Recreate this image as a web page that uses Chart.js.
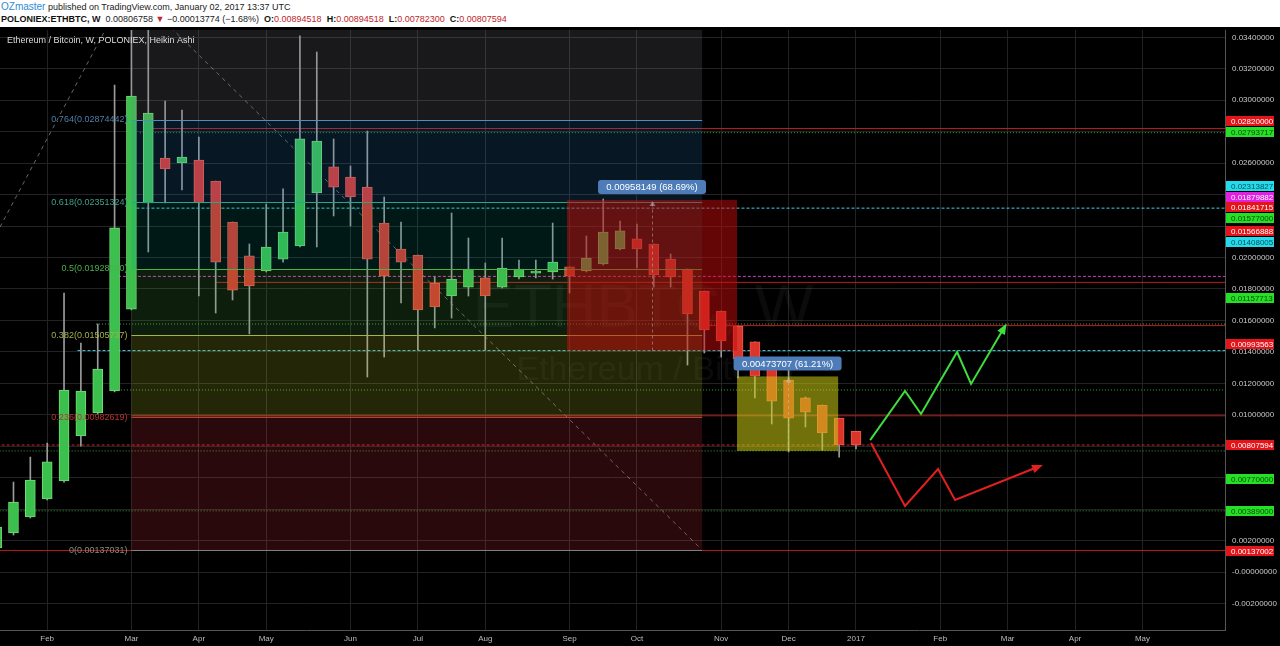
<!DOCTYPE html>
<html lang="en">
<head>
<meta charset="UTF-8" />
<title>Ethereum / Bitcoin, W, POLONIEX, Heikin Ashi</title>
<style>
  body { margin: 0; background: #fff; width: 1280px; height: 646px; overflow: hidden; font-family: "Liberation Sans", Arial, sans-serif; }
  #head { height: 27px; box-sizing: border-box; padding: 1px 0 0 1px; font-size: 9px; line-height: 12px; color: #222; white-space: nowrap; }
  #head .user { color: #2e8bd6; font-size: 10px; }
  #head .red { color: #c0252b; }
  #head b { color: #111; }
  #wrap { width: 1280px; height: 619px; background: #000; }
  canvas { display: block; }
</style>
</head>
<body>
<div id="head">
  <div><span class="user">OZmaster</span> published on TradingView.com, January 02, 2017 13:37 UTC</div>
  <div><b>POLONIEX:ETHBTC, W</b>&nbsp; 0.00806758 <span class="red">▼</span> −0.00013774 (−1.68%) &nbsp;<b>O:</b><span class="red">0.00894518</span> &nbsp;<b>H:</b><span class="red">0.00894518</span> &nbsp;<b>L:</b><span class="red">0.00782300</span> &nbsp;<b>C:</b><span class="red">0.00807594</span></div>
</div>
<div id="wrap"><canvas id="c" width="1280" height="619"></canvas></div>

<script src="https://cdn.jsdelivr.net/npm/chart.js"></script>
<script>
// weekly Heikin Ashi candles, week index 0 = 18 Jan 2016
const weeks = [-1,0,1,2,3,4,5,6,7,8,9,10,11,12,13,14,15,16,17,18,19,20,21,22,23,24,25,26,27,28,29,30,31,32,33,34,35,36,37,38,39,40,41,42,43,44,45,46,47,48,49,50];
const opens  = [0.00153,0.00248,0.00350,0.00464,0.00579,0.00865,0.01011,0.01151,0.01672,0.02347,0.02633,0.02601,0.02620,0.02486,0.02226,0.02010,0.01914,0.01990,0.02073,0.02410,0.02576,0.02512,0.02448,0.02219,0.02054,0.02016,0.01838,0.01755,0.01812,0.01870,0.01812,0.01876,0.01901,0.01908,0.01940,0.01914,0.01959,0.02054,0.02118,0.02086,0.01990,0.01927,0.01787,0.01660,0.01564,0.01463,0.01348,0.01221,0.01107,0.01062,0.00979,0.00894518];
const closes = [0.00286,0.00445,0.00585,0.00700,0.01157,0.01151,0.01291,0.02188,0.03027,0.02919,0.02563,0.02639,0.02347,0.01971,0.01793,0.01819,0.02067,0.02162,0.02754,0.02741,0.02448,0.02385,0.01990,0.01882,0.01971,0.01666,0.01685,0.01863,0.01927,0.01755,0.01933,0.01927,0.01914,0.01971,0.01882,0.01997,0.02162,0.02169,0.02054,0.01889,0.01876,0.01641,0.01539,0.01469,0.01355,0.01246,0.01087,0.00979,0.01017,0.00884,0.00808,0.00807594];
const highs  = [0.00331,0.00572,0.00731,0.00820,0.01774,0.01456,0.01577,0.03097,0.03479,0.03459,0.02995,0.02938,0.02766,0.02486,0.02226,0.02086,0.02340,0.02436,0.03409,0.03307,0.02754,0.02582,0.02804,0.02385,0.02226,0.02016,0.01876,0.02283,0.02124,0.01965,0.02124,0.01984,0.01984,0.02219,0.01940,0.02137,0.02372,0.02232,0.02213,0.02086,0.02022,0.01927,0.01787,0.01660,0.01564,0.01463,0.01348,0.01285,0.01113,0.01062,0.00979,0.00894518];
const lows   = [0.00127,0.00235,0.00343,0.00458,0.00572,0.00801,0.01005,0.01145,0.01666,0.02035,0.02347,0.02429,0.01755,0.01647,0.01730,0.01514,0.01908,0.01971,0.02067,0.02067,0.02264,0.02200,0.01240,0.01367,0.01711,0.01412,0.01552,0.01615,0.01755,0.01412,0.01806,0.01863,0.01870,0.01863,0.01774,0.01908,0.01952,0.02048,0.01933,0.01812,0.01812,0.01316,0.01393,0.01367,0.01234,0.01107,0.00941,0.00763,0.00922,0.00776,0.00731,0.00782300];

// month ticks (week index of the first bar of each month)
const monthWeeks  = [2,7,11,15,20,24,28,33,37,42,46,50,55,59,63,67];
const monthLabels = ['Feb','Mar','Apr','May','Jun','Jul','Aug','Sep','Oct','Nov','Dec','2017','Feb','Mar','Apr','May'];

// horizontal levels with their axis tags
const levelValues = [0.02820000,0.02793717,0.02313827,0.01879882,0.01841715,0.01577000,0.01566888,0.01408005,0.01157713,0.00993563,0.00807594,0.00770000,0.00389000,0.00137002];
const levelStarts = [8.1,7.5,7.3,5.9,12,4.9,41,3.8,6.2,7,-1,-1,-1,-1];
const levelKinds  = ['red','green','cyan','magenta','red','green','red','cyan','green','red','reddash','green','green','red'];
const tagAt       = [0.028680,0.027981,0.024515,0.023847,0.023180,0.022512,0.021685,0.020986,0.017424,0.014499,0.008076,0.005914,0.003879,0.001335];

// fibonacci retracement
const fibRatios = ['0','0.236','0.382','0.5','0.618','0.764','1'];
const fibValues = [0.00137031,0.00982619,0.01505737,0.01928530,0.02351324,0.02874442,0.03720030];
const fibFrom = 7, fibTo = 40.87;

// price range boxes
const boxFrom  = [32.85, 42.94];
const boxTo    = [42.94, 48.94];
const boxLow   = [0.01408005, 0.00770000];
const boxHigh  = [0.02366154, 0.01243707];
const boxText  = ['0.00958149 (68.69%)', '0.00473707 (61.21%)'];

// dashed trend lines
const trend1X = [-0.8, 5.73], trend1Y = [0.02194, 0.03504];
const trend2X = [9.0, 40.75], trend2Y = [0.03498, 0.00153];

// projected paths
const upX = [50.84,52.91,53.86,56.00,56.83,58.85];
const upY = [0.00839,0.01151,0.01005,0.01399,0.01196,0.01564];
const downX = [50.89,52.91,54.87,55.88,60.93];
const downY = [0.00820,0.00420,0.00655,0.00458,0.00674];

const kindColor = { red: 'rgba(225,30,30,0.85)', reddash: 'rgba(230,40,40,0.9)', green: 'rgba(70,210,70,0.8)', cyan: '#3fd2e4', magenta: '#d63ad6' };
const kindDash  = { red: [], reddash: [3, 2], green: [1, 2], cyan: [3, 2], magenta: [3, 2] };
const tagBg     = { red: '#e3141a', reddash: '#e3141a', green: '#25e025', cyan: '#22dcee', magenta: '#e022e0' };
const tagFg     = { red: '#fff', reddash: '#fff', green: '#0b4a0b', cyan: '#0b4b55', magenta: '#fff' };

const fibLine = ['#7d7f88','#c93434','#a8b14a','#4caf50','#2aa58a','#4f8fc0','#7d7f88'];
const fibFill = ['rgba(242,54,69,0.17)','rgba(180,190,40,0.2)','rgba(76,175,80,0.17)','rgba(0,150,136,0.17)','rgba(40,130,200,0.18)','rgba(125,127,136,0.2)'];
const fibText = ['#8a8a8a','#b83232','#a4b04a','#4caf50','#3fa08a','#4f7fa8','#8a8a8a'];
const boxFill = ['rgba(200,12,12,0.5)','rgba(205,205,20,0.55)'];

const up = weeks.map((w, i) => closes[i] >= opens[i]);

const levelSets = levelValues.map((v, i) => ({
  type: 'line',
  data: [{ x: levelStarts[i], y: v }, { x: 80, y: v }],
  borderColor: kindColor[levelKinds[i]],
  borderDash: kindDash[levelKinds[i]],
  borderWidth: 1,
  pointRadius: 0,
  order: 5
}));

const trendSets = [[trend1X, trend1Y], [trend2X, trend2Y]].map(([xs, ys]) => ({
  type: 'line',
  data: xs.map((x, i) => ({ x, y: ys[i] })),
  borderColor: 'rgba(170,170,170,0.6)',
  borderDash: [4, 4],
  borderWidth: 1,
  pointRadius: 0,
  order: 5
}));

const pathSets = [
  { type: 'line', data: upX.map((x, i) => ({ x, y: upY[i] })), borderColor: '#3ede3e', borderWidth: 2, pointRadius: 0, order: 0 },
  { type: 'line', data: downX.map((x, i) => ({ x, y: downY[i] })), borderColor: '#e22020', borderWidth: 2, pointRadius: 0, order: 0 }
];

const wicks = {
  type: 'bar',
  data: weeks.map((w, i) => ({ x: w, y: [lows[i], highs[i]] })),
  backgroundColor: '#9b9b9b',
  barThickness: 1,
  grouped: false,
  order: 2
};

const bodies = {
  type: 'bar',
  data: weeks.map((w, i) => ({ x: w, y: [opens[i], closes[i]] })),
  backgroundColor: up.map(u => u ? '#3bc04d' : '#da342b'),
  borderColor: up.map(u => u ? '#72dc78' : '#ee5a4a'),
  borderWidth: 1,
  borderSkipped: false,
  barThickness: 10,
  minBarLength: 2,
  grouped: false,
  order: 1
};

function arrowHead(ctx, p0, p1, color) {
  const ang = Math.atan2(p1.y - p0.y, p1.x - p0.x);
  ctx.fillStyle = color;
  ctx.beginPath();
  ctx.moveTo(p1.x + Math.cos(ang) * 3, p1.y + Math.sin(ang) * 3);
  ctx.lineTo(p1.x - Math.cos(ang - 0.5) * 9, p1.y - Math.sin(ang - 0.5) * 9);
  ctx.lineTo(p1.x - Math.cos(ang + 0.5) * 9, p1.y - Math.sin(ang + 0.5) * 9);
  ctx.closePath();
  ctx.fill();
}

function roundBox(ctx, x, y, w, h, r) {
  ctx.beginPath();
  ctx.moveTo(x + r, y);
  ctx.arcTo(x + w, y, x + w, y + h, r);
  ctx.arcTo(x + w, y + h, x, y + h, r);
  ctx.arcTo(x, y + h, x, y, r);
  ctx.arcTo(x, y, x + w, y, r);
  ctx.closePath();
  ctx.fill();
}

const drawings = {
  id: 'drawings',
  beforeDatasetsDraw(chart) {
    const { ctx, chartArea: a } = chart;
    ctx.save();
    ctx.fillStyle = 'rgba(255,255,255,0.045)';
    ctx.textAlign = 'center';
    ctx.textBaseline = 'middle';
    ctx.font = '62px "Liberation Sans", Arial, sans-serif';
    ctx.fillText('ETHBTC, W', a.left + a.width * 0.525, a.top + a.height * 0.467);
    ctx.font = '34px "Liberation Sans", Arial, sans-serif';
    ctx.fillText('Ethereum / Bitcoin', a.left + a.width * 0.535, a.top + a.height * 0.567);
    ctx.restore();
  },
  afterDatasetsDraw(chart) {
    const { ctx, chartArea: a, scales: { x, y } } = chart;
    ctx.save();
    ctx.beginPath();
    ctx.rect(a.left, a.top, a.width, a.height);
    ctx.clip();

    // fib zones and levels
    const fx0 = x.getPixelForValue(fibFrom), fx1 = x.getPixelForValue(fibTo);
    for (let i = 0; i < fibValues.length - 1; i++) {
      const y0 = y.getPixelForValue(fibValues[i]), y1 = y.getPixelForValue(fibValues[i + 1]);
      ctx.fillStyle = fibFill[i];
      ctx.fillRect(fx0, y1, fx1 - fx0, y0 - y1);
    }
    ctx.lineWidth = 1;
    fibValues.forEach((v, i) => {
      const py = Math.round(y.getPixelForValue(v)) + 0.5;
      ctx.strokeStyle = fibLine[i];
      ctx.beginPath(); ctx.moveTo(fx0, py); ctx.lineTo(fx1, py); ctx.stroke();
    });

    // range boxes
    boxText.forEach((t, i) => {
      const bx0 = x.getPixelForValue(boxFrom[i]), bx1 = x.getPixelForValue(boxTo[i]);
      const by0 = y.getPixelForValue(boxHigh[i]), by1 = y.getPixelForValue(boxLow[i]);
      ctx.fillStyle = boxFill[i];
      ctx.fillRect(bx0, by0, bx1 - bx0, by1 - by0);
      const cx = Math.round((bx0 + bx1) / 2) + 0.5;
      ctx.strokeStyle = 'rgba(200,200,200,0.45)';
      ctx.setLineDash([3, 3]);
      ctx.beginPath(); ctx.moveTo(cx, by1); ctx.lineTo(cx, by0 + 2); ctx.stroke();
      ctx.setLineDash([]);
      ctx.fillStyle = 'rgba(200,200,200,0.5)';
      ctx.beginPath(); ctx.moveTo(cx, by0 + 1); ctx.lineTo(cx - 3, by0 + 6); ctx.lineTo(cx + 3, by0 + 6); ctx.closePath(); ctx.fill();
    });

    // arrow heads on the projected paths
    chart.data.datasets.forEach((ds, di) => {
      if (ds !== pathSets[0] && ds !== pathSets[1]) return;
      const pts = chart.getDatasetMeta(di).data;
      arrowHead(ctx, pts[pts.length - 2], pts[pts.length - 1], ds.borderColor);
    });
    ctx.restore();

    // fib labels
    ctx.save();
    ctx.font = '9px "Liberation Sans", Arial, sans-serif';
    ctx.textAlign = 'right';
    ctx.textBaseline = 'middle';
    fibValues.forEach((v, i) => {
      const py = y.getPixelForValue(v);
      if (py < a.top) return;
      ctx.fillStyle = fibText[i];
      ctx.fillText(fibRatios[i] + '(' + v.toFixed(8) + ')', fx0 - 4, py);
    });

    // range labels
    ctx.font = '9.5px "Liberation Sans", Arial, sans-serif';
    ctx.textAlign = 'center';
    boxText.forEach((t, i) => {
      const bx0 = x.getPixelForValue(boxFrom[i]), bx1 = x.getPixelForValue(boxTo[i]);
      const by0 = y.getPixelForValue(boxHigh[i]);
      const cx = (bx0 + bx1) / 2;
      ctx.fillStyle = '#4d7cb8';
      roundBox(ctx, cx - 54, by0 - 20, 108, 14, 3);
      ctx.fillStyle = '#fff';
      ctx.fillText(t, cx, by0 - 12.5);
    });
    ctx.restore();
  },
  afterDraw(chart) {
    const { ctx, chartArea: a, scales: { y } } = chart;
    ctx.save();
    ctx.font = '8px "Liberation Sans", Arial, sans-serif';
    ctx.textBaseline = 'middle';
    ctx.textAlign = 'left';
    levelValues.forEach((v, i) => {
      const py = y.getPixelForValue(tagAt[i]);
      ctx.fillStyle = tagBg[levelKinds[i]];
      ctx.fillRect(a.right + 1, Math.round(py - 5), 48, 10);
      ctx.fillStyle = tagFg[levelKinds[i]];
      ctx.fillText(v.toFixed(8), a.right + 6, py + 0.5);
    });
    ctx.font = '9px "Liberation Sans", Arial, sans-serif';
    ctx.fillStyle = '#dcdcdc';
    ctx.fillText('Ethereum / Bitcoin, W, POLONIEX, Heikin Ashi', 7, a.top + 11);
    ctx.restore();
  }
};

Chart.defaults.font.family = '"Liberation Sans", Arial, sans-serif';

// hide axis labels that sit under a level tag
const underTag = v => tagAt.some(t => Math.abs(t - v) < 0.0004);

new Chart(document.getElementById('c'), {
  type: 'bar',
  data: { datasets: [...levelSets, ...trendSets, ...pathSets, wicks, bodies] },
  options: {
    responsive: false,
    animation: false,
    layout: { padding: { top: 3, left: 0, right: 0, bottom: 0 } },
    plugins: { legend: { display: false }, tooltip: { enabled: false } },
    scales: {
      x: {
        type: 'linear',
        min: -0.8,
        max: 71.9,
        offset: false,
        afterBuildTicks: s => { s.ticks = monthWeeks.map(v => ({ value: v })); },
        afterFit: s => { s.height = 16; s.paddingLeft = 0; s.paddingRight = 0; },
        ticks: {
          autoSkip: false,
          maxRotation: 0,
          color: '#bdbdbd',
          font: { size: 8 },
          padding: 4,
          callback: v => monthLabels[monthWeeks.indexOf(v)] || ''
        },
        grid: { color: '#232323', offset: false, drawTicks: false },
        border: { color: '#555' }
      },
      y: {
        position: 'right',
        min: -0.003688,
        max: 0.034467,
        afterFit: s => { s.width = 55; s.paddingTop = 0; s.paddingBottom = 0; },
        ticks: {
          stepSize: 0.002,
          includeBounds: false,
          color: '#c8c8c8',
          font: { size: 8 },
          padding: 7,
          callback: v => underTag(v) ? '' : (Math.abs(v) < 1e-9 ? '-0.00000000' : v.toFixed(8))
        },
        grid: { color: '#232323', drawTicks: false },
        border: { color: '#555' }
      }
    }
  },
  plugins: [drawings]
});
</script>
</body>
</html>
